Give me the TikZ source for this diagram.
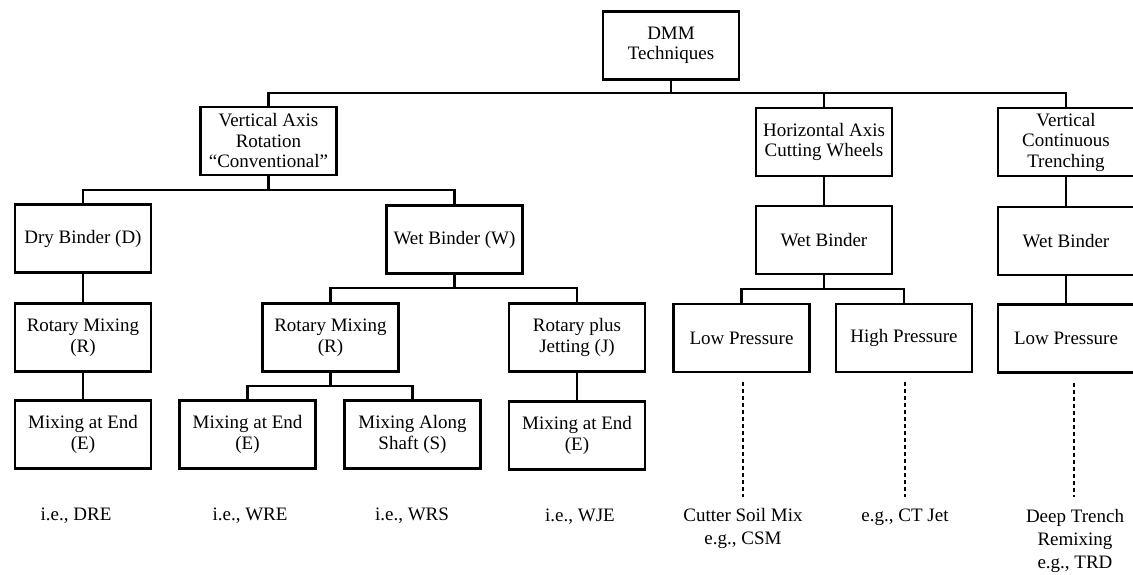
\documentclass[tikz,border=0pt]{standalone}
\usepackage{fontspec}
\setmainfont{Liberation Serif}
\begin{document}
\begin{tikzpicture}[x=1pt,y=-1pt,
  box/.style={draw=black, line width=2.2pt, rectangle, minimum width=136pt, minimum height=68pt,
    inner sep=1pt, align=center, font=\fontsize{19}{20.5}\selectfont},
  lbl/.style={inner sep=0pt, align=center, font=\fontsize{19}{23}\selectfont},
  link/.style={line width=2.2pt},
  dashline/.style={line width=1.1pt, dash pattern=on 4pt off 3pt}]
\useasboundingbox (0,0) rectangle (1133,575);

% level 0
\node[box] (dmm) at (671,45.5) {DMM\\Techniques};
% level 1
\node[box] (va) at (268.5,141) {Vertical Axis\\Rotation\\“Conventional”};
\node[box] (ha) at (824,142) {Horizontal Axis\\Cutting Wheels};
\node[box] (vc) at (1066,142) {Vertical\\Continuous\\Trenching};
% level 2
\node[box] (db) at (83,238.5) {Dry Binder (D)};
\node[box] (wbw) at (454.5,239.5) {Wet Binder (W)};
\node[box] (wb2) at (824,240) {Wet Binder};
\node[box] (wb3) at (1066,241) {Wet Binder};
% level 3
\node[box] (rm1) at (83,337.5) {Rotary Mixing\\(R)};
\node[box] (rm2) at (330.5,337.5) {Rotary Mixing\\(R)};
\node[box] (rj) at (577,337.5) {Rotary plus\\Jetting (J)};
\node[box] (lp1) at (741.5,338) {Low Pressure};
\node[box] (hp) at (904,338) {High Pressure};
\node[box] (lp2) at (1066,338.5) {Low Pressure};
% level 4
\node[box] (me1) at (83,434.5) {Mixing at End\\(E)};
\node[box] (me2) at (247.5,434.5) {Mixing at End\\(E)};
\node[box] (ms) at (412.5,434.5) {Mixing Along\\Shaft (S)};
\node[box] (me3) at (577,435.5) {Mixing at End\\(E)};

% bottom labels
\node[lbl] (t1) at (76,516) {i.e., DRE};
\node[lbl] (t2) at (250,516) {i.e., WRE};
\node[lbl] (t3) at (412,516) {i.e., WRS};
\node[lbl] (t4) at (580,517) {i.e., WJE};
\node[lbl] (t5) at (743,528) {Cutter Soil Mix\\e.g., CSM};
\node[lbl] (t6) at (905,517) {e.g., CT Jet};
\node[lbl] (t7) at (1075,541) {Deep Trench\\Remixing\\e.g., TRD};

% bus coordinates
\coordinate (b0) at (0,93);
\coordinate (b1) at (0,190);
\coordinate (b2) at (0,288);
\coordinate (b3) at (0,289);
\coordinate (b4) at (0,386);

% connectors
\draw[link] (dmm.south) -- (dmm.south |- b0);
\draw[link] (va.north) |- (b0 -| vc.north) -- (vc.north);
\draw[link] (ha.north) -- (ha.north |- b0);

\draw[link] (va.south) -- (va.south |- b1);
\draw[link] (db.north) |- (b1 -| wbw.north) -- (wbw.north);

\draw[link] (db.south) -- (rm1.north);
\draw[link] (rm1.south) -- (me1.north);

\draw[link] (wbw.south) -- (wbw.south |- b2);
\draw[link] (rm2.north) |- (b2 -| rj.north) -- (rj.north);

\draw[link] (rm2.south) -- (rm2.south |- b4);
\draw[link] (me2.north) |- (b4 -| ms.north) -- (ms.north);

\draw[link] (rj.south) -- (me3.north);

\draw[link] (ha.south) -- (wb2.north);
\draw[link] (wb2.south) -- (wb2.south |- b3);
\draw[link] (lp1.north) |- (b3 -| hp.north) -- (hp.north);

\draw[link] (vc.south) -- (wb3.north);
\draw[link] (wb3.south) -- (lp2.north);

% dashed connectors
\coordinate (e1) at (743,497);
\coordinate (e2) at (905,497);
\coordinate (e3) at (1074,497);
\draw[dashline] (e1 |- lp1.south) ++(0,9) -- (e1);
\draw[dashline] (e2 |- hp.south) ++(0,9) -- (e2);
\draw[dashline] (e3 |- lp2.south) ++(0,9) -- (e3);
\end{tikzpicture}
\end{document}
